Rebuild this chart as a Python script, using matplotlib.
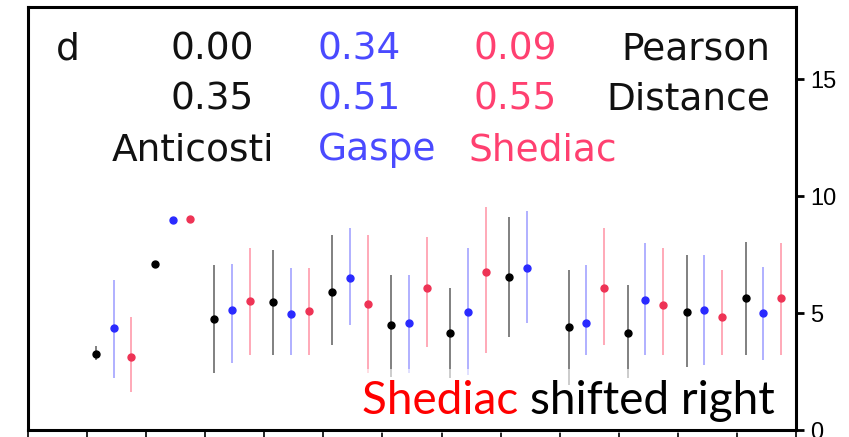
import numpy as np
import matplotlib

matplotlib.use("Agg")
import matplotlib.pyplot as plt

# month index 1..12, three stations per month
months = np.arange(1, 13)

anticosti_mean = [3.25, 7.09, 4.74, 5.47, 5.90, 4.49, 4.15, 6.54, 4.40, 4.15, 5.04, 5.64]
anticosti_lo = [3.0, np.nan, 2.44, 3.2, 3.63, 2.27, 2.22, 3.97, 1.92, 2.22, 2.69, 3.2]
anticosti_hi = [3.6, np.nan, 7.05, 7.69, 8.33, 6.62, 6.07, 9.10, 6.84, 6.20, 7.48, 8.03]

gaspe_mean = [4.36, 8.97, 5.13, 4.96, 6.50, 4.57, 5.04, 6.92, 4.57, 5.56, 5.13, 5.00]
gaspe_lo = [2.22, np.nan, 2.86, 3.2, 4.49, 2.44, 2.35, 4.57, 3.2, 3.2, 2.78, 2.99]
gaspe_hi = [6.41, np.nan, 7.09, 6.92, 8.63, 6.62, 7.78, 9.36, 7.05, 7.99, 7.48, 6.97]

shediac_mean = [3.12, 9.02, 5.51, 5.09, 5.38, 6.07, 6.75, np.nan, 6.07, 5.34, 4.83, 5.64]
shediac_lo = [1.62, np.nan, 3.2, 3.2, 2.44, 3.55, 3.29, np.nan, 3.63, 3.2, 3.2, 3.2]
shediac_hi = [4.83, np.nan, 7.78, 6.92, 8.33, 8.25, 9.53, np.nan, 8.63, 7.78, 6.84, 7.99]

pearson = ["0.00", "0.34", "0.09"]
distance = ["0.35", "0.51", "0.55"]
stations = ["Anticosti", "Gaspe", "Shediac"]

plt.rcParams.update({"figure.facecolor": "white", "axes.facecolor": "white"})
fig = plt.figure(figsize=(8.49, 4.37), dpi=100)
ax = fig.add_axes([0.033, 0.016, 0.9045, 0.968])

series = [
    (anticosti_mean, anticosti_lo, anticosti_hi, 0.15, "#000000", "#5a5a5a", 0.9),
    (gaspe_mean, gaspe_lo, gaspe_hi, 0.45, "#2a2aff", "#7d7dff", 0.7),
    (shediac_mean, shediac_lo, shediac_hi, 0.75, "#ee3355", "#ff7088", 0.7),
]
for mean, lo, hi, off, mcol, bcol, alpha in series:
    x = months + off
    ax.vlines(x, lo, hi, colors=bcol, lw=1.2, alpha=alpha, zorder=1)
    ax.plot(x, mean, "o", color=mcol, ms=5, zorder=1.5)

ax.set_xlim(0, 13)
ax.set_ylim(0, 18.08)
ax.set_xticks(np.arange(0, 14))
ax.set_xticklabels([])
ax.set_yticks([0, 5, 10, 15])
ax.yaxis.tick_right()
ax.tick_params(axis="y", direction="out", length=6, width=2, labelsize=17, pad=4)
ax.tick_params(axis="x", direction="out", length=6, width=1.2)
for sp in ax.spines.values():
    sp.set_linewidth(2.2)
for lab in ax.get_yticklabels():
    lab.set_fontfamily("Liberation Sans")

colors = ["#111111", "#4a4aff", "#ff4070"]
fs = 27
ax.text(0.036, 0.875, "d", fontsize=fs, transform=ax.transAxes, color="#111111")
xs = [0.185, 0.377, 0.58]
for i in range(3):
    ax.text(xs[i], 0.875, pearson[i], fontsize=fs, color=colors[i], transform=ax.transAxes)
    ax.text(xs[i], 0.757, distance[i], fontsize=fs, color=colors[i], transform=ax.transAxes)
ax.text(0.966, 0.875, "Pearson", fontsize=fs, ha="right", color="#111111", transform=ax.transAxes)
ax.text(0.966, 0.757, "Distance", fontsize=fs, ha="right", color="#111111", transform=ax.transAxes)
for x, name, c in zip([0.109, 0.377, 0.573], stations, colors):
    ax.text(x, 0.638, name, fontsize=fs, color=c, transform=ax.transAxes)

# note in the lower right, on a faint white box that fades the bars under it
note_fs = 33
ax.text(0.973, 0.038, "Shediac shifted right", fontsize=note_fs, ha="right", va="baseline",
        family="Lato", alpha=0.0, transform=ax.transAxes, zorder=2,
        bbox=dict(facecolor="white", alpha=0.6, edgecolor="none", pad=8))
t2 = ax.text(0.973, 0.038, "shifted right", fontsize=note_fs, ha="right", va="baseline",
             family="Lato", color="black", transform=ax.transAxes, zorder=5)
ax.annotate("Shediac ", xy=(0, 0), xycoords=t2, fontsize=note_fs, ha="right", va="bottom",
            family="Lato", color="#ff0000", zorder=5)

fig.savefig("out.png", dpi=100)
